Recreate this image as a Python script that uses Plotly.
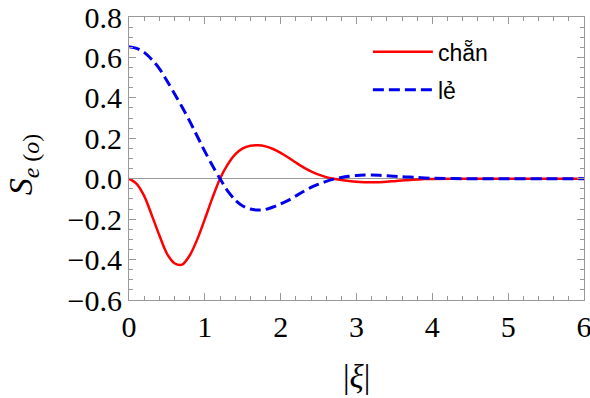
import plotly.graph_objects as go

xi = [0.0, 0.1, 0.2, 0.3, 0.4, 0.5, 0.6, 0.7, 0.8, 0.9,
      1.0, 1.1, 1.2, 1.3, 1.4, 1.5, 1.6, 1.7, 1.8, 1.9,
      2.0, 2.1, 2.2, 2.3, 2.4, 2.5, 2.6, 2.7, 2.8, 2.9,
      3.0, 3.1, 3.2, 3.3, 3.4, 3.5, 3.6, 3.7, 3.8, 3.9,
      4.0, 4.5, 5.0, 5.5, 6.0]

s_even = [0.0, -0.025, -0.085, -0.18, -0.28, -0.37, -0.418, -0.425, -0.38, -0.30,
          -0.20, -0.095, 0.0, 0.07, 0.12, 0.15, 0.163, 0.165, 0.16, 0.147,
          0.128, 0.105, 0.08, 0.056, 0.036, 0.02, 0.008, 0.0, -0.006, -0.011,
          -0.015, -0.017, -0.018, -0.017, -0.015, -0.012, -0.009, -0.006, -0.004, -0.002,
          -0.001, 0.0, 0.0, 0.0, 0.0]

s_odd = [0.653, 0.645, 0.625, 0.59, 0.545, 0.485, 0.42, 0.355, 0.285, 0.21,
         0.135, 0.065, 0.0, -0.06, -0.105, -0.135, -0.15, -0.155, -0.152, -0.14,
         -0.125, -0.107, -0.085, -0.063, -0.043, -0.027, -0.013, -0.002, 0.006, 0.012,
         0.016, 0.018, 0.018, 0.017, 0.015, 0.012, 0.010, 0.008, 0.006, 0.004,
         0.002, 0.0, 0.0, 0.0, 0.0]

series_names = ["chẵn", "lẻ"]
x_ticks = [0, 1, 2, 3, 4, 5, 6]
y_ticks = [-0.6, -0.4, -0.2, 0.0, 0.2, 0.4, 0.6, 0.8]

SERIF = "Times New Roman, Liberation Serif, serif"

fig = go.Figure()
fig.add_trace(go.Scatter(x=xi, y=s_even, mode="lines", name=series_names[0],
                         legendgroup="a",
                         line=dict(color="#ff0000", width=2.5, shape="spline", smoothing=0.8)))
fig.add_trace(go.Scatter(x=xi, y=s_odd, mode="lines", name=series_names[1],
                         legendgroup="b",
                         line=dict(color="#0000ee", width=3, dash="11px,5px", shape="spline", smoothing=0.8)))

axis_common = dict(showline=True, linecolor="#999999", linewidth=1, mirror="allticks",
                   ticks="inside", ticklen=7, tickcolor="#999999", tickwidth=1,
                   showgrid=False, ticklabeloverflow="allow", automargin=False,
                   tickfont=dict(family=SERIF, size=30, color="black"))

fig.update_xaxes(range=[0, 6], tickvals=x_ticks, zeroline=False,
                 minor=dict(dtick=0.2, ticks="inside", ticklen=4, tickcolor="#999999", showgrid=False),
                 **axis_common)
fig.update_yaxes(range=[-0.6, 0.8], tickvals=y_ticks, tickformat=".1f",
                 zeroline=True, zerolinecolor="#999999", zerolinewidth=1,
                 minor=dict(dtick=0.05, ticks="inside", ticklen=4, tickcolor="#999999", showgrid=False),
                 **axis_common)

fig.add_annotation(text="|<i>ξ</i>|", xref="paper", yref="paper", x=0.5, y=-0.272,
                   xanchor="center", yanchor="middle", showarrow=False,
                   font=dict(family=SERIF, size=33, color="black"))
fig.add_annotation(text="<i>S</i><sub><i>e</i> (<i>o</i>)</sub>", xref="paper", yref="paper",
                   x=-0.233, y=0.48, xanchor="center", yanchor="middle", textangle=-90,
                   showarrow=False,
                   font=dict(family=SERIF, size=34, color="black"))

fig.update_layout(
    width=590, height=398,
    margin=dict(l=129, r=6, t=17, b=98),
    paper_bgcolor="white", plot_bgcolor="white",
    showlegend=True,
    legend=dict(x=0.525, y=0.953, xanchor="left", yanchor="top",
                bgcolor="rgba(0,0,0,0)", itemwidth=60, tracegroupgap=5,
                font=dict(family="Liberation Sans", size=23, color="black")),
)

fig.write_html("out.html")
